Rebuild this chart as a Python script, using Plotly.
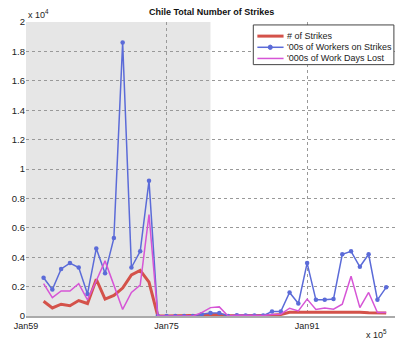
import plotly.graph_objects as go

years = list(range(1961, 2001))
strikes = [0.10, 0.055, 0.08, 0.07, 0.105, 0.085, 0.25, 0.115, 0.14, 0.19, 0.28, 0.31, 0.23,
           0, 0, 0, 0, 0,
           0.005, 0.01, 0.01, 0.002, 0.002, 0.002, 0.003, 0.003, 0.005, 0.01, 0.025, 0.025,
           0.025, 0.025, 0.028, 0.03, 0.025, 0.027, 0.026, 0.022, 0.02, 0.02]
workers = [0.26, 0.18, 0.32, 0.36, 0.33, 0.15, 0.46, 0.29, 0.53, 1.86, 0.33, 0.44, 0.92,
           0, 0, 0, 0, 0,
           0.012, 0.02, 0.02, 0, 0.005, 0.003, 0.003, 0.003, 0.03, 0.03, 0.16, 0.085,
           0.36, 0.11, 0.11, 0.115, 0.42, 0.44, 0.335, 0.42, 0.11, 0.195]
days_lost = [0.22, 0.125, 0.17, 0.17, 0.22, 0.11, 0.24, 0.375, 0.21, 0.045, 0.16, 0.21, 0.69,
             0, 0, 0, 0, 0,
             0.023, 0.057, 0.062, 0, 0.005, 0.005, 0.003, 0.003, 0.01, 0.012, 0.053, 0.035,
             0.115, 0.044, 0.055, 0.046, 0.08, 0.27, 0.057, 0.16, 0.023, 0.023]
scale = 1e4
series_names = ["# of Strikes", "'00s of Workers on Strikes", "'000s of Work Days Lost"]
tick_dates = ["1959-01-01", "1975-01-01", "1991-01-01", "2001-01-01"]
tick_text = ["Jan59", "Jan75", "Jan91", "Jan01"]
y_ticks = [0, 0.2, 0.4, 0.6, 0.8, 1, 1.2, 1.4, 1.6, 1.8, 2]
shade_start, shade_end = "1959-01-01", "1980-01-01"

dates = [f"{y}-01-01" for y in years]
font = "Liberation Sans, Arial, sans-serif"
colors = ["#d4524a", "#5b6bd8", "#d655d6"]
widths = [3, 1.5, 1.5]

fig = go.Figure()
fig.add_trace(go.Scatter(x=dates, y=[v * scale for v in strikes], name=series_names[0],
                         mode="lines", line=dict(color=colors[0], width=widths[0])))
fig.add_trace(go.Scatter(x=dates, y=[v * scale for v in workers], name=series_names[1],
                         mode="lines+markers", line=dict(color=colors[1], width=widths[1]),
                         marker=dict(size=4.5, color=colors[1], symbol="circle")))
fig.add_trace(go.Scatter(x=dates, y=[v * scale for v in days_lost], name=series_names[2],
                         mode="lines", line=dict(color=colors[2], width=widths[2])))

fig.add_shape(type="rect", xref="x", yref="y", x0=shade_start, x1=shade_end, y0=0, y1=2 * scale,
              fillcolor="#e6e6e6", line=dict(width=0), layer="below")

# custom compact legend (MATLAB style)
lx0, lx1, ly0, ly1 = 0.616, 0.997, 0.855, 0.990
fig.add_shape(type="rect", xref="paper", yref="paper", x0=lx0, x1=lx1, y0=ly0, y1=ly1,
              fillcolor="white", line=dict(color="#444", width=1), layer="above")
annotations = []
row_y = [0.952, 0.914, 0.876]
for i, name in enumerate(series_names):
    fig.add_shape(type="line", xref="paper", yref="paper", x0=0.627, x1=0.698,
                  y0=row_y[i], y1=row_y[i], line=dict(color=colors[i], width=widths[i]),
                  layer="above")
    annotations.append(dict(text=name, xref="paper", yref="paper", x=0.701, y=row_y[i],
                            xanchor="left", yanchor="middle", showarrow=False,
                            font=dict(size=9, color="#222")))
fig.add_shape(type="circle", xref="paper", yref="paper", x0=0.6565, x1=0.6675,
              y0=row_y[1] - 0.0075, y1=row_y[1] + 0.0075,
              fillcolor=colors[1], line=dict(color=colors[1], width=1), layer="above")

annotations += [
    dict(text="x 10<sup>4</sup>", xref="paper", yref="paper", x=0, y=1.0,
         xanchor="left", yanchor="bottom", showarrow=False, font=dict(size=9)),
    dict(text="x 10<sup>5</sup>", xref="paper", yref="paper", x=0.985, y=-0.035,
         xanchor="right", yanchor="top", showarrow=False, font=dict(size=9)),
]

fig.update_layout(
    width=407, height=344,
    margin=dict(l=20, r=12, t=22, b=28),
    paper_bgcolor="white", plot_bgcolor="white",
    font=dict(family=font, size=9, color="#222"),
    title=dict(text="<b>Chile Total Number of Strikes</b>", x=0.52, xanchor="center",
               y=0.965, yanchor="middle", font=dict(size=9, color="#111")),
    showlegend=False,
    xaxis=dict(type="date", range=["1959-01-01", "2001-01-01"], tickvals=tick_dates,
               ticktext=tick_text, showgrid=True, gridcolor="#999", griddash="dot",
               gridwidth=1, showline=True, linecolor="#aaa", linewidth=2, zeroline=False,
               ticks="", tickfont=dict(size=9)),
    yaxis=dict(range=[0, 2 * scale], tickvals=[t * scale for t in y_ticks],
               ticktext=[f"{t:g}" for t in y_ticks], showgrid=True, gridcolor="#999",
               griddash="dot", gridwidth=1, zeroline=False, showline=False, ticks="",
               tickfont=dict(size=9.5)),
    annotations=annotations,
)

fig.write_html("out.html")
